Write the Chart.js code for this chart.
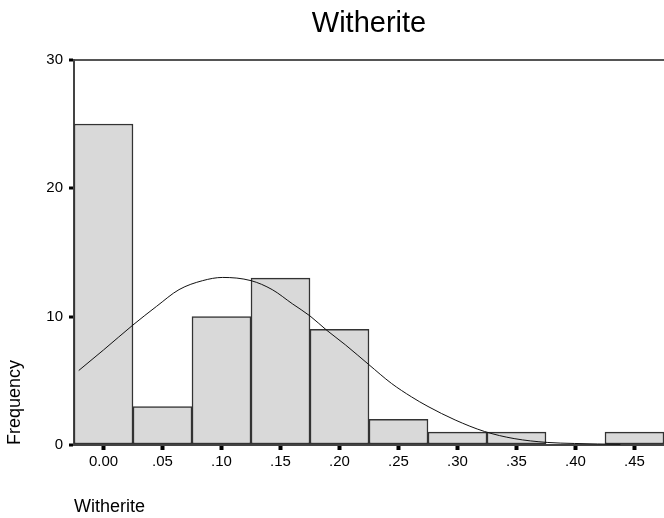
<!DOCTYPE html>
<html>
<head>
<meta charset="utf-8">
<script src="https://cdn.jsdelivr.net/npm/chart.js@4/dist/chart.umd.min.js"></script>
<style>
  body { margin: 0; background: #fff; }
  canvas { display: block; }
</style>
</head>
<body>
<canvas id="histChart" width="664" height="518"></canvas>
<script>
// histogram bins (bin centres) and counts
const binCenters = [0.00, 0.05, 0.10, 0.15, 0.20, 0.25, 0.30, 0.35, 0.40, 0.45];
const counts = [25, 3, 10, 13, 9, 2, 1, 1, 0, 1];

// normal curve
const curveX = [-0.021, 0.000, 0.025, 0.045, 0.064, 0.084, 0.101, 0.125, 0.143, 0.160, 0.175,
  0.189, 0.205, 0.225, 0.244, 0.261, 0.275, 0.298, 0.323, 0.348, 0.376, 0.399, 0.438];
const curveY = [5.8, 7.4, 9.35, 10.8, 12.1, 12.8, 13.05, 12.8, 12.1, 11.0, 10.05,
  8.95, 7.8, 6.25, 4.8, 3.75, 3.0, 1.95, 1.05, 0.5, 0.2, 0.12, 0.05];

const yTicks = [0, 10, 20, 30];

const font = "'Liberation Sans', Arial, sans-serif";

const ctx = document.getElementById("histChart").getContext("2d");
const histChart = new Chart(ctx, {
  type: "bar",
  data: {
    datasets: [
      {
        type: "line",
        data: curveX.map((x, i) => ({ x: x, y: curveY[i] })),
        borderColor: "#111",
        borderWidth: 1,
        pointRadius: 0,
        cubicInterpolationMode: "monotone",
        fill: false,
        order: 0,
      },
      {
        type: "bar",
        data: binCenters.map((x, i) => ({ x: x, y: counts[i] })),
        backgroundColor: "#d9d9d9",
        borderColor: "#333",
        borderWidth: 1.5,
        borderSkipped: false,
        barPercentage: 1,
        categoryPercentage: 1,
        grouped: false,
        order: 1,
      },
    ],
  },
  options: {
    responsive: false,
    animation: false,
    devicePixelRatio: 1,
    layout: { padding: 0 },
    plugins: {
      legend: { display: false },
      tooltip: { enabled: false },
      title: {
        display: true,
        text: "Witherite",
        fullSize: false,
        color: "#000",
        font: { family: font, size: 29, weight: "normal" },
        padding: { top: 7, bottom: 18 },
      },
    },
    scales: {
      x: {
        type: "linear",
        min: -0.025,
        max: 0.475,
        offset: false,
        afterBuildTicks: (axis) => {
          axis.ticks = binCenters.map((v) => ({ value: v }));
        },
        afterFit: (axis) => {
          axis.height = 73;
        },
        ticks: {
          color: "#000",
          font: { family: font, size: 15 },
          padding: 3,
          maxRotation: 0,
          autoSkip: false,
          callback: (v) => (v === 0 ? "0.00" : v.toFixed(2).replace(/^0/, "")),
        },
        grid: {
          display: true,
          offset: false,
          drawOnChartArea: false,
          drawTicks: true,
          tickLength: 5,
          tickWidth: 4,
          tickColor: "#000",
        },
        border: { display: true, color: "#444", width: 2 },
        title: {
          display: true,
          text: "Witherite",
          align: "start",
          color: "#000",
          font: { family: font, size: 18 },
          padding: { top: 0, bottom: 0 },
        },
      },
      y: {
        min: 0,
        max: 30,
        afterBuildTicks: (axis) => {
          axis.ticks = yTicks.map((v) => ({ value: v }));
        },
        afterFit: (axis) => {
          axis.width = 74;
        },
        ticks: {
          color: "#000",
          font: { family: font, size: 15 },
          padding: 6,
        },
        grid: {
          display: true,
          drawOnChartArea: true,
          color: (c) => (c.tick && c.tick.value === 30 ? "#555" : "rgba(0,0,0,0)"),
          lineWidth: 2,
          drawTicks: true,
          tickLength: 5,
          tickWidth: 3,
          tickColor: "#000",
        },
        border: { display: true, color: "#444", width: 2 },
        title: {
          display: true,
          text: "Frequency",
          align: "start",
          color: "#000",
          font: { family: font, size: 18 },
          padding: { top: 4, bottom: 0 },
        },
      },
    },
  },
});
</script>
</body>
</html>
